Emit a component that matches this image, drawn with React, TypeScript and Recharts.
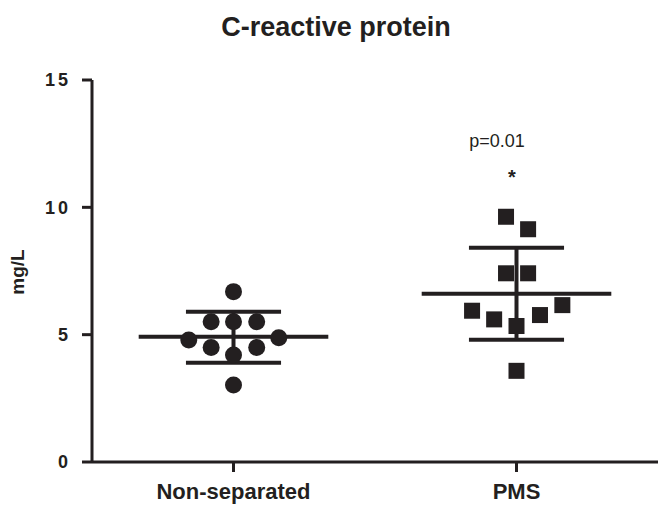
import { ScatterChart, Scatter, XAxis, YAxis, ReferenceLine } from "recharts"

const categories = ["Non-separated", "PMS"]
const categoryCenters = [0.5, 1.5]
const yTicks = [0, 5, 10, 15]

// individual subjects (x = jittered position around the group centre)
const nonSepX = [0.5, 0.421, 0.5, 0.582, 0.342, 0.66, 0.421, 0.582, 0.5, 0.5]
const nonSepY = [6.69, 5.51, 5.51, 5.51, 4.79, 4.88, 4.5, 4.5, 4.2, 3.02]
const pmsX = [1.463, 1.541, 1.463, 1.541, 1.343, 1.421, 1.5, 1.583, 1.662, 1.5]
const pmsY = [9.63, 9.14, 7.41, 7.41, 5.94, 5.6, 5.34, 5.77, 6.16, 3.58]

// mean and SD per group
const means = [4.92, 6.61]
const sdHigh = [5.9, 8.41]
const sdLow = [3.9, 4.8]

const ink = "#231f20"
const font = "'Liberation Sans', Arial, sans-serif"

const nonSepData = nonSepX.map((x, i) => ({ x, y: nonSepY[i] }))
const pmsData = pmsX.map((x, i) => ({ x, y: pmsY[i] }))

const Dot = (props: any) => <circle cx={props.cx} cy={props.cy} r={8.5} fill={ink} />
const Square = (props: any) => (
  <rect x={props.cx - 8} y={props.cy - 8} width={16} height={16} fill={ink} />
)

const YTick = (props: any) => {
  const { x, y, payload } = props
  return (
    <text x={x - 9} y={y} dy="0.36em" textAnchor="end" fontFamily={font} fontWeight="bold" fontSize={18} letterSpacing={3} fill={ink}>
      {payload.value}
    </text>
  )
}

const XTick = (props: any) => {
  const { x, y, payload } = props
  const idx = categoryCenters.indexOf(payload.value)
  return (
    <text x={x} y={y + 25} textAnchor="middle" fontFamily={font} fontWeight="bold" fontSize={22} fill={ink}>
      {categories[idx]}
    </text>
  )
}

export default function App() {
  return (
    <div style={{ position: "absolute", left: 0, top: 0, width: 659, height: 509, background: "#fff" }}>
      <ScatterChart width={659} height={509} margin={{ top: 80, right: 1, bottom: 7, left: 32 }}>
        <XAxis
          type="number"
          dataKey="x"
          domain={[0, 2]}
          ticks={categoryCenters}
          tick={<XTick />}
          tickSize={10}
          height={40}
          stroke={ink}
          strokeWidth={3}
          allowDataOverflow
        />
        <YAxis
          type="number"
          dataKey="y"
          domain={[0, 15]}
          ticks={yTicks}
          tick={<YTick />}
          tickSize={10}
          width={60}
          stroke={ink}
          strokeWidth={3}
        />
        {categoryCenters.map((c, i) => [
          <ReferenceLine key={`m${i}`} segment={[{ x: c - 0.335, y: means[i] }, { x: c + 0.335, y: means[i] }]} stroke={ink} strokeWidth={4} ifOverflow="visible" />,
          <ReferenceLine key={`h${i}`} segment={[{ x: c - 0.168, y: sdHigh[i] }, { x: c + 0.168, y: sdHigh[i] }]} stroke={ink} strokeWidth={4} ifOverflow="visible" />,
          <ReferenceLine key={`l${i}`} segment={[{ x: c - 0.168, y: sdLow[i] }, { x: c + 0.168, y: sdLow[i] }]} stroke={ink} strokeWidth={4} ifOverflow="visible" />,
          <ReferenceLine key={`v${i}`} segment={[{ x: c, y: sdLow[i] }, { x: c, y: sdHigh[i] }]} stroke={ink} strokeWidth={4} ifOverflow="visible" />,
        ])}
        <Scatter data={nonSepData} shape={<Dot />} isAnimationActive={false} />
        <Scatter data={pmsData} shape={<Square />} isAnimationActive={false} />
      </ScatterChart>
      <svg width={659} height={509} style={{ position: "absolute", left: 0, top: 0, pointerEvents: "none" }}>
        <text x={336} y={36} textAnchor="middle" fontFamily={font} fontWeight="bold" fontSize={27} fill={ink}>
          C-reactive protein
        </text>
        <text x={24} y={272} transform="rotate(-90, 24, 272)" textAnchor="middle" fontFamily={font} fontWeight="bold" fontSize={19} fill={ink}>
          mg/L
        </text>
        <text x={497} y={147} textAnchor="middle" fontFamily={font} fontSize={18} fill={ink}>
          p=0.01
        </text>
        <text x={512} y={184} textAnchor="middle" fontFamily={font} fontWeight="bold" fontSize={20} fill={ink}>
          *
        </text>
      </svg>
    </div>
  )
}
